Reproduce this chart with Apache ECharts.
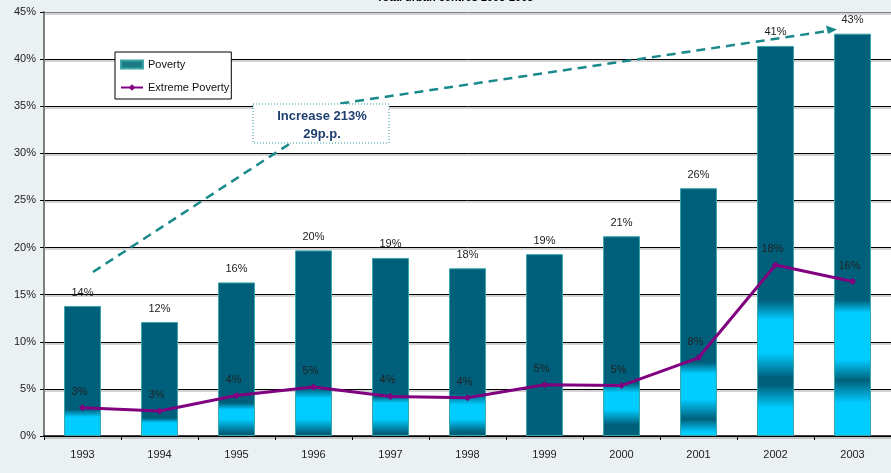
<!DOCTYPE html>
<html>
<head>
<meta charset="utf-8">
<script src="https://cdn.jsdelivr.net/npm/echarts@6/dist/echarts.min.js"></script>
<style>
  html, body { margin: 0; padding: 0; background: #ebf0f3; }
  #chart { width: 891px; height: 473px; }
</style>
</head>
<body>
<div id="chart"></div>
<script>
const years = ['1993', '1994', '1995', '1996', '1997', '1998', '1999', '2000', '2001', '2002', '2003'];
const poverty = [13.8, 12.1, 16.3, 19.7, 18.9, 17.8, 19.3, 21.2, 26.3, 41.4, 42.7];
const extremePoverty = [3.0, 2.65, 4.3, 5.2, 4.2, 4.07, 5.45, 5.35, 8.3, 18.15, 16.4];
const yTicks = [0, 45, 5];

// light bands inside the bars (level in % : colour key)
const D = '#00607b', C = '#00ccff';
const glow = [
    [[2.8, D], [2.0, C]],
    [[1.9, D], [1.4, C]],
    [[3.5, D], [2.8, C], [1.8, C], [0.3, D]],
    [[5.0, D], [4.0, C], [1.8, C], [0.3, D]],
    [[4.2, D], [3.5, C], [1.8, C], [0.3, D]],
    [[4.5, D], [3.3, C], [1.8, C], [0.4, D]],
    [],
    [[5.6, D], [4.6, C], [2.8, C], [1.2, D]],
    [[7.8, D], [6.6, C], [3.9, C], [1.8, D], [0.4, C]],
    [[14.4, D], [12.3, C], [8.8, C], [6.2, D], [5.4, D], [3.0, C]],
    [[14.4, D], [13.1, C], [8.1, C], [5.9, D], [3.5, C]]
];

const font = "'Liberation Sans', Arial, sans-serif";

const barData = poverty.map((v, i) => {
    const stops = [{ offset: 0, color: D }];
    let last = D;
    glow[i].forEach(([lvl, col]) => {
        stops.push({ offset: Math.min(1, Math.max(0, 1 - lvl / v)), color: col });
        last = col;
    });
    stops.push({ offset: 1, color: last });
    return {
        value: v,
        itemStyle: { color: new echarts.graphic.LinearGradient(0, 0, 0, 1, stops) }
    };
});

const gridColors = ['#000', '#000', '#000', '#000', '#000', '#000', '#000', '#000', '#000', '#808080'];

const chart = echarts.init(document.getElementById('chart'));
chart.setOption({
    backgroundColor: '#ebf0f3',
    textStyle: { fontFamily: font },
    animation: false,
    grid: {
        left: 44, right: 0, top: 12, bottom: 37,
        show: true, backgroundColor: '#fff', borderWidth: 0
    },
    legend: {
        orient: 'vertical',
        left: 115,
        top: 52,
        backgroundColor: '#fff',
        borderColor: '#000',
        borderWidth: 1,
        borderRadius: 0,
        padding: [7, 2, 6, 5],
        itemWidth: 22,
        itemHeight: 8,
        itemGap: 12,
        textStyle: { fontSize: 11, color: '#111', fontFamily: font },
        data: [
            { name: 'Poverty', icon: 'rect', itemStyle: { color: '#1d7a84' } },
            { name: 'Extreme Poverty' }
        ]
    },
    xAxis: {
        type: 'category',
        data: years,
        axisLine: { lineStyle: { color: '#000', width: 1.5 } },
        axisTick: { show: true, length: 4, lineStyle: { color: '#000' } },
        axisLabel: { margin: 13, fontSize: 11, color: '#222', fontFamily: font }
    },
    yAxis: {
        type: 'value',
        min: yTicks[0],
        max: yTicks[1],
        interval: yTicks[2],
        axisLine: { show: true, lineStyle: { color: '#808080', width: 2 } },
        axisTick: { show: true, length: 4, lineStyle: { color: '#000' } },
        axisLabel: { formatter: '{value}%', margin: 8, fontSize: 11, color: '#222', fontFamily: font },
        splitLine: {
            lineStyle: { color: gridColors, width: 1, shadowColor: 'rgba(0,0,0,0.35)', shadowOffsetY: 1.5 }
        }
    },
    series: [
        {
            name: 'Poverty',
            type: 'bar',
            data: barData,
            barWidth: 37,
            itemStyle: { color: D, borderColor: '#3aa6a8', borderWidth: 1 },
            label: {
                show: true,
                position: 'top',
                distance: 8,
                fontSize: 11,
                color: '#222',
                fontFamily: font,
                formatter: p => Math.round(p.value) + '%'
            }
        },
        {
            name: 'Extreme Poverty',
            type: 'line',
            data: extremePoverty,
            color: '#800080',
            symbol: 'diamond',
            symbolSize: 7,
            lineStyle: { width: 3, color: '#800080' },
            itemStyle: { color: '#800080' },
            label: {
                show: true,
                position: 'top',
                distance: 7,
                offset: [-3, 0],
                fontSize: 11,
                color: '#222',
                fontFamily: font,
                formatter: p => Math.round(p.value) + '%'
            }
        }
    ],
    graphic: [
        {
            type: 'text',
            x: 455, y: -8, z: 20,
            style: {
                text: 'Total urban centres 1993-2003',
                textAlign: 'center',
                textVerticalAlign: 'top',
                font: 'bold 11px ' + font,
                fill: '#000'
            }
        },
        {
            type: 'polyline',
            z: 20,
            shape: { points: [[93, 272], [300, 137], [337, 104], [828, 31]] },
            style: { stroke: '#19898b', lineWidth: 2.5, lineDash: [9, 6], fill: null }
        },
        {
            type: 'polygon',
            z: 20,
            shape: { points: [[837, 29.5], [826, 25.5], [828, 34]] },
            style: { fill: '#19898b' }
        },
        {
            type: 'rect',
            z: 21,
            shape: { x: 253, y: 104, width: 136, height: 39 },
            style: { fill: '#fff', stroke: '#2a9d9f', lineWidth: 1, lineDash: [1, 2] }
        },
        {
            type: 'text',
            x: 322, y: 116, z: 22,
            style: {
                text: 'Increase 213%',
                textAlign: 'center',
                textVerticalAlign: 'middle',
                font: 'bold 13px ' + font,
                fill: '#1f3f6f'
            }
        },
        {
            type: 'text',
            x: 322, y: 134, z: 22,
            style: {
                text: '29p.p.',
                textAlign: 'center',
                textVerticalAlign: 'middle',
                font: 'bold 13px ' + font,
                fill: '#1f3f6f'
            }
        }
    ]
});
</script>
</body>
</html>
